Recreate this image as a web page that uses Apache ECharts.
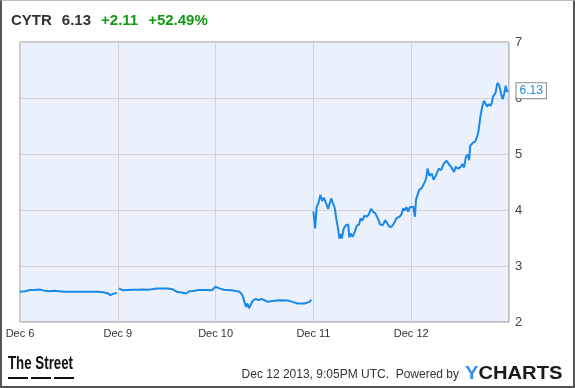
<!DOCTYPE html>
<html>
<head>
<meta charset="utf-8">
<script src="https://cdn.jsdelivr.net/npm/echarts@6/dist/echarts.min.js"></script>
<style>
html,body{margin:0;padding:0;background:#fff;}
#wrap{position:relative;width:575px;height:388px;}
#chart{position:absolute;left:0;top:0;width:575px;height:388px;}
#frame{position:absolute;left:0;top:0;width:575px;height:388px;box-sizing:border-box;
border-top:1px solid #bdbdbd;border-left:2px solid #555;border-right:2px solid #555;border-bottom:2px solid #555;pointer-events:none;}
</style>
</head>
<body>
<div id="wrap"><div id="chart"></div><div id="frame"></div></div>
<script>
// ---- data ----
const ticker = 'CYTR';
const prevClose = 4.02;
const dayLabels = ['Dec 6', 'Dec 9', 'Dec 10', 'Dec 11', 'Dec 12'];
const yTicks = [2, 3, 4, 5, 6, 7];
const sessionMinutes = 390;
// breakBefore[d] = true if the line is interrupted before day d
const breakBefore = [false, true, false, true, false];
// [minute since open, price]
const dec6 = [[0,2.54],[20,2.55],[39,2.57],[57,2.57],[78,2.58],[97,2.56],[117,2.55],[136,2.56],[156,2.55],[176,2.54],[197,2.54],[234,2.54],[271,2.54],[312,2.54],[332,2.53],[351,2.51],[361,2.48],[369,2.50],[386,2.52]];
const dec9 = [[4,2.60],[20,2.565],[39,2.57],[59,2.575],[78,2.575],[98,2.58],[117,2.575],[137,2.585],[156,2.60],[176,2.60],[195,2.60],[215,2.59],[226,2.565],[238,2.535],[254,2.525],[273,2.51],[285,2.55],[302,2.555],[322,2.57],[351,2.57],[371,2.565],[379,2.58],[389,2.63]];
const dec10 = [[0,2.61],[16,2.60],[32,2.575],[48,2.57],[64,2.565],[80,2.555],[96,2.54],[107,2.48],[115,2.36],[121,2.27],[127,2.33],[133,2.245],[139,2.30],[147,2.375],[159,2.41],[171,2.39],[183,2.41],[195,2.39],[207,2.36],[227,2.375],[255,2.39],[287,2.385],[307,2.36],[327,2.33],[354,2.33],[374,2.36],[382,2.40]];
const dec11 = [[0,3.97],[7,3.67],[13,4.06],[20,4.12],[28,4.27],[35,4.16],[42,4.22],[48,4.15],[59,4.02],[65,4.00],[71,4.21],[78,4.12],[85,4.04],[91,3.85],[98,3.67],[104,3.49],[108,3.57],[113,3.49],[121,3.67],[130,3.73],[139,3.74],[143,3.51],[149,3.58],[156,3.52],[165,3.61],[173,3.72],[182,3.74],[188,3.85],[195,3.81],[204,3.90],[212,3.88],[221,3.92],[230,4.02],[238,3.97],[247,3.94],[260,3.82],[266,3.74],[277,3.73],[286,3.82],[295,3.76],[303,3.70],[312,3.70],[321,3.76],[332,3.86],[344,3.88],[351,3.92],[358,4.03],[364,3.99],[371,4.05],[378,3.97],[384,4.05]];
const dec12 = [[0,4.03],[8,4.06],[15,3.88],[19,4.18],[24,4.21],[32,4.36],[42,4.39],[52,4.48],[60,4.57],[65,4.74],[73,4.61],[82,4.65],[89,4.54],[100,4.63],[110,4.74],[119,4.71],[130,4.83],[141,4.88],[150,4.82],[159,4.77],[171,4.68],[177,4.77],[187,4.74],[198,4.77],[204,4.82],[211,4.76],[218,4.95],[225,4.99],[231,4.89],[235,5.14],[245,5.20],[255,5.22],[263,5.31],[268,5.40],[276,5.67],[283,5.84],[290,5.95],[295,5.92],[303,5.85],[309,5.89],[317,5.86],[322,5.92],[326,6.02],[336,6.09],[344,6.27],[351,6.23],[358,6.08],[365,5.98],[371,6.08],[377,6.22],[381,6.12],[388,6.13]];
const days = [dec6, dec9, dec10, dec11, dec12];

// ---- build ----
const seriesData = [];
days.forEach((day, d) => {
  if (breakBefore[d]) seriesData.push([d, '-']);
  day.forEach(([m, p]) => seriesData.push([d + m / sessionMinutes, p]));
});
const lastDay = days[days.length - 1];
const last = lastDay[lastDay.length - 1][1];
const change = last - prevClose;
const pct = change / prevClose * 100;
const sign = v => (v >= 0 ? '+' : '');

const chart = echarts.init(document.getElementById('chart'), null, {renderer: 'canvas'});
const FONT = 'Liberation Sans, Arial, sans-serif';
chart.setOption({
  backgroundColor: '#ffffff',
  animation: false,
  title: {
    left: 11, top: 12, padding: 0,
    text: '{a|' + ticker + '}  {a|' + last.toFixed(2) + '}  {g|' + sign(change) + change.toFixed(2) + '}  {g|' + sign(pct) + pct.toFixed(2) + '%}',
    textStyle: {
      rich: {
        a: {fontFamily: FONT, fontSize: 15, fontWeight: 'bold', color: '#333333'},
        g: {fontFamily: FONT, fontSize: 15, fontWeight: 'bold', color: '#119a11'}
      }
    }
  },
  grid: {
    left: 20, right: 66, top: 42, bottom: 66,
    show: true, backgroundColor: '#eaf1fc', borderColor: '#8a8a8a', borderWidth: 1
  },
  xAxis: {
    type: 'value', min: 0, max: dayLabels.length, interval: 1,
    axisLine: {show: false}, axisTick: {show: false},
    splitLine: {show: true, lineStyle: {color: '#d3d3d3', width: 1}},
    axisLabel: {
      margin: 6, color: '#333333', fontFamily: FONT, fontSize: 11,
      showMinLabel: true, showMaxLabel: false,
      formatter: v => dayLabels[v] || ''
    }
  },
  yAxis: {
    type: 'value', position: 'right', min: yTicks[0], max: yTicks[yTicks.length - 1], interval: 1,
    axisLine: {show: false}, axisTick: {show: false},
    splitLine: {show: true, lineStyle: {color: '#d3d3d3', width: 1}},
    axisLabel: {margin: 6, color: '#444444', fontFamily: FONT, fontSize: 13}
  },
  series: [{
    type: 'line', data: seriesData, showSymbol: false, connectNulls: false,
    lineStyle: {color: '#1a88e8', width: 2},
    itemStyle: {color: '#1a88e8'},
    endLabel: {
      show: true, distance: 8,
      formatter: p => Number(p.value[1]).toFixed(2),
      color: '#1a88e8', fontFamily: FONT, fontSize: 12,
      backgroundColor: '#ffffff', borderColor: '#888888', borderWidth: 1,
      padding: [2, 3, 1, 3]
    }
  }],
  graphic: [
    {type: 'text', x: 8, y: 354, scaleX: 0.7, originX: 0, style: {text: 'The Street', fontFamily: FONT, fontWeight: 'bold', fontSize: 19, fill: '#111111'}},
    {type: 'rect', shape: {x: 8, y: 377, width: 20, height: 2}, style: {fill: '#111111'}},
    {type: 'rect', shape: {x: 31, y: 377, width: 20, height: 2}, style: {fill: '#111111'}},
    {type: 'rect', shape: {x: 54, y: 377, width: 20, height: 2}, style: {fill: '#111111'}},
    {type: 'text', x: 459, y: 375, style: {text: 'Dec 12 2013, 9:05PM UTC.  Powered by', align: 'right', verticalAlign: 'middle', fontFamily: FONT, fontSize: 12, fill: '#333333'}},
    {type: 'text', x: 465, y: 374, scaleX: 1.12, originX: 0, style: {
      text: '{y|Y}{c|CHARTS}', verticalAlign: 'middle',
      rich: {
        y: {fontFamily: FONT, fontWeight: 'bold', fontSize: 18, fill: '#3a8fe6', color: '#3a8fe6'},
        c: {fontFamily: FONT, fontWeight: 'bold', fontSize: 18, fill: '#1a1a1a', color: '#1a1a1a'}
      }
    }}
  ]
});
</script>
</body>
</html>
